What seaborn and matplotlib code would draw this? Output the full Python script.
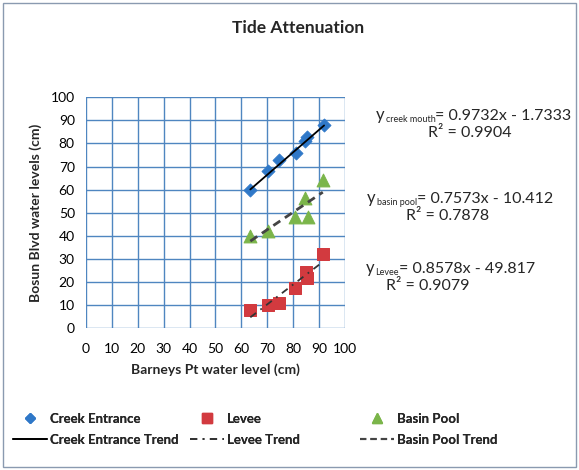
"""
Tide Attenuation
----------------
Scatter of Bosun Blvd water levels against Barneys Pt water level,
with linear trend lines for the three gauge locations.
"""

import numpy as np
import pandas as pd
import matplotlib
matplotlib.use("Agg")
import matplotlib.pyplot as plt
from matplotlib.lines import Line2D
from matplotlib.patches import Rectangle
import seaborn as sns

# --- data ---
creek_x = [63.5, 70.5, 74.5, 81.0, 84.5, 85.5, 92.0]
creek_y = [60.0, 68.0, 73.0, 76.0, 81.0, 83.0, 88.0]

levee_x = [63.5, 70.5, 74.5, 80.8, 84.9, 85.5, 91.7]
levee_y = [8.0, 10.0, 11.0, 17.5, 24.5, 21.5, 32.0]

basin_x = [63.5, 70.5, 80.6, 85.8, 84.6, 91.5]
basin_y = [40.0, 42.0, 48.0, 48.0, 56.5, 64.0]

# trend line coefficients as printed on the chart (slope, intercept, R2)
creek_fit = [0.9732, -1.7333, 0.9904]
basin_fit = [0.7573, -10.412, 0.7878]
levee_fit = [0.8578, -49.817, 0.9079]

BLUE = "#2f78c8"
RED = "#d23a3f"
GREEN = "#7bb54a"
GRID = "#4f86c0"
W, H = 579, 470


def trend(xs, fit):
    xx = np.array([min(xs), max(xs)])
    return pd.DataFrame({"x": xx, "y": fit[0] * xx + fit[1]})


def equation(fig, renderer, px, py, sub, fit, r2_px):
    """Write 'y_sub = ax - b' with a small subscript, and R2 underneath.
    px, py are pixel positions from the top-left (baseline of the 'y')."""
    y0 = 1 - py / H
    t = fig.text(px / W, y0, "y", ha="left", va="baseline", fontsize=12)
    x1 = t.get_window_extent(renderer).x1 / W + 1 / W
    s = fig.text(x1, y0 - 2 / H, sub, ha="left", va="baseline", fontsize=6.5)
    x2 = s.get_window_extent(renderer).x1 / W
    fig.text(x2, y0, f"= {fit[0]}x - {abs(fit[1])}", ha="left", va="baseline", fontsize=11.5)
    fig.text(r2_px / W, y0 - 17 / H, f"R² = {fit[2]}", ha="center", va="baseline", fontsize=11.5)


def main():
    sns.set_theme(style="white")
    plt.rcParams["font.family"] = ["Lato", "DejaVu Sans"]

    fig = plt.figure(figsize=(W / 100, H / 100), dpi=100)
    ax = fig.add_axes([0.1485, 0.302, 0.447, 0.491])
    renderer = fig.canvas.get_renderer()

    # outer chart border
    fig.patches.append(Rectangle((0.006, 0.006), 0.988, 0.988, transform=fig.transFigure,
                                 fill=False, edgecolor="#8a9ab0", linewidth=1.0))

    # trend lines
    t = trend(creek_x, creek_fit)
    sns.lineplot(data=t, x="x", y="y", ax=ax, color="black", linewidth=1.3, zorder=4)
    t = trend(levee_x, levee_fit)
    ax.plot(t["x"], t["y"], color="#333333", linewidth=1.3, dashes=(4, 3, 1, 3), zorder=4)
    t = trend(basin_x, basin_fit)
    ax.plot(t["x"], t["y"], color="#444444", linewidth=2.0, dashes=(3, 2), zorder=4)

    # data points
    sns.scatterplot(x=creek_x, y=creek_y, ax=ax, marker="D", s=45, color=BLUE,
                    edgecolor=BLUE, zorder=3)
    sns.scatterplot(x=levee_x, y=levee_y, ax=ax, marker="s", s=80, color=RED,
                    edgecolor=RED, zorder=3)
    sns.scatterplot(x=basin_x, y=basin_y, ax=ax, marker="^", s=85, color=GREEN,
                    edgecolor=GREEN, zorder=3)

    ax.set_xlim(0, 100)
    ax.set_ylim(0, 100)
    ax.set_xticks(range(0, 101, 10))
    ax.set_yticks(range(0, 101, 10))
    ax.grid(True, color=GRID, linewidth=1.0)
    ax.set_axisbelow(True)
    for s in ax.spines.values():
        s.set_visible(False)
    ax.tick_params(axis="both", labelsize=10, labelcolor="black", color=GRID,
                   length=4, width=1.0, direction="out", pad=6)
    ax.tick_params(axis="y", pad=4)
    ax.tick_params(axis="x", pad=7)
    ax.set_xlabel("Barneys Pt water level (cm)", fontsize=10, fontweight="bold", labelpad=6)
    ax.set_ylabel("Bosun Blvd water levels (cm)", fontsize=10, fontweight="bold", labelpad=6)

    fig.text(0.515, 0.94, "Tide Attenuation", ha="center", va="center",
             fontsize=12.5, fontweight="bold")

    # regression equations
    equation(fig, renderer, 376, 120, "creek mouth", creek_fit, 470)
    equation(fig, renderer, 367, 203, "basin pool", basin_fit, 448)
    equation(fig, renderer, 366, 273, "Levee", levee_fit, 428)

    # legend: three columns placed like the original chart
    cols = [
        (13, Line2D([], [], marker="D", color=BLUE, linestyle="none", markersize=5), "Creek Entrance",
         Line2D([], [], color="black", linewidth=1.3), "Creek Entrance Trend"),
        (190, Line2D([], [], marker="s", color=RED, linestyle="none", markersize=7), "Levee",
         Line2D([], [], color="#333333", linewidth=1.3, dashes=(4, 3, 1, 3)), "Levee Trend"),
        (360, Line2D([], [], marker="^", color=GREEN, linestyle="none", markersize=7), "Basin Pool",
         Line2D([], [], color="#444444", linewidth=1.5, dashes=(3, 2)), "Basin Pool Trend"),
    ]
    for px, h1, l1, h2, l2 in cols:
        leg = fig.legend([h1, h2], [l1, l2], loc="upper left",
                         bbox_to_anchor=(px / W, 1 - 413 / H), frameon=False,
                         borderpad=0, borderaxespad=0, handlelength=2.6, handletextpad=0.2,
                         labelspacing=0.65, prop={"weight": "bold", "size": 9.5})
        fig.add_artist(leg)

    fig.savefig("out.png", dpi=100)
    plt.close(fig)


if __name__ == "__main__":
    main()
